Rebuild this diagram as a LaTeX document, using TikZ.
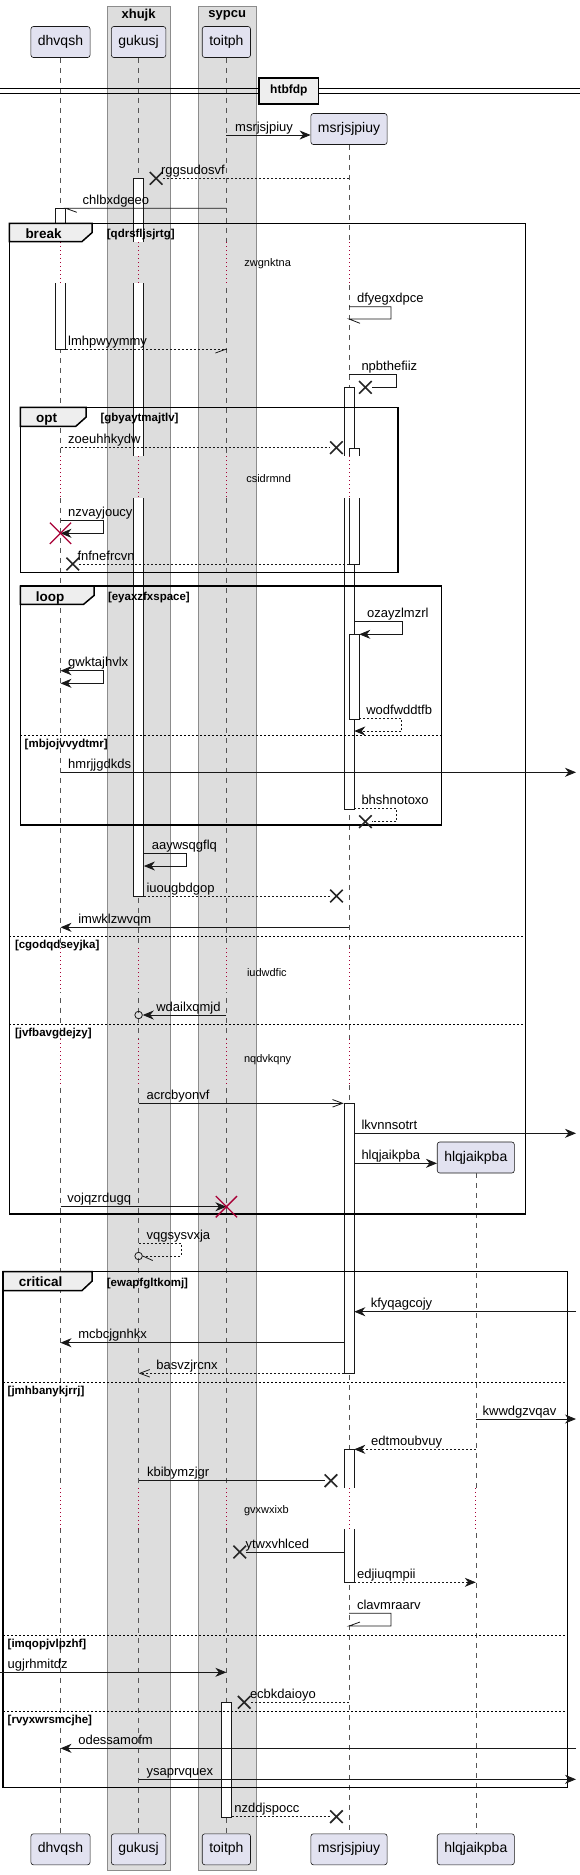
\documentclass[tikz,border=0pt]{standalone}
\usepackage{fontspec}
\setmainfont{Liberation Sans}
\usepackage{xcolor}
\usepackage{tikz}
\usetikzlibrary{arrows.meta, positioning, calc, shapes.misc}

\definecolor{partbg}{HTML}{E2E2F0}
\definecolor{partline}{HTML}{181818}
\definecolor{groupbg}{HTML}{DDDDDD}
\definecolor{groupline}{HTML}{8C8C8C}
\definecolor{tabbg}{HTML}{EEEEEE}
\definecolor{delayred}{HTML}{A80036}
\definecolor{lifegray}{HTML}{555555}

\newcommand{\msgfont}{\fontsize{13}{15}\selectfont}
\newcommand{\partfont}{\fontsize{14}{16}\selectfont}
\newcommand{\smallfont}{\fontsize{11}{13}\selectfont}
\newcommand{\tabfont}{\fontsize{13.5}{16}\selectfont\bfseries}
\newcommand{\condfont}{\fontsize{11.5}{13}\selectfont\bfseries}
\newcommand{\grpfont}{\fontsize{13}{15}\selectfont\bfseries}
\newcommand{\sepfont}{\fontsize{12}{14}\selectfont\bfseries}

\tikzset{
  part/.style={draw=partline, fill=partbg, rounded corners=2.5pt, line width=0.6pt, minimum height=31pt, inner xsep=7pt, inner ysep=0pt, font=\partfont},
  life/.style={draw=lifegray, line width=0.6pt, dash pattern=on 5pt off 5pt},
  actbar/.style={draw=partline, fill=white, line width=0.6pt, minimum width=10pt, inner sep=0pt, anchor=north},
  lbl/.style={anchor=base west, inner sep=0pt},
  mline/.style={draw=partline, line width=0.8pt},
  rline/.style={mline, dash pattern=on 2pt off 2pt},
  msg/.style={mline, -{Stealth[length=11pt,width=9pt,inset=3.5pt]}},
  rmsg/.style={msg, dash pattern=on 2pt off 2pt},
  dmsg/.style={mline, {Stealth[length=11pt,width=9pt,inset=3.5pt]}-{Stealth[length=11pt,width=9pt,inset=3.5pt]}},
  opn/.style={mline, -{Straight Barb[length=10pt,width=7.5pt]}},
  delay/.style={draw=delayred, line width=0.8pt, dash pattern=on 1pt off 3pt},
  frame/.style={draw=black, line width=1.5pt},
  tab/.style={draw=black, line width=1.5pt, fill=tabbg},
  divline/.style={draw=black, line width=0.8pt, dash pattern=on 2pt off 2pt},
  kind/.style={anchor=base west, inner sep=0pt, font=\tabfont},
  cond/.style={anchor=base west, inner sep=0pt, font=\condfont},
  dtext/.style={anchor=west, inner sep=0pt, font=\smallfont},
  lostx/.style={cross out, draw=black!85, line width=1.6pt, minimum size=11pt, inner sep=0pt},
  killx/.style={cross out, draw=delayred, line width=1.3pt, minimum size=20pt, inner sep=0pt},
  endo/.style={circle, draw=partline, line width=0.8pt, minimum size=7.5pt, inner sep=0pt}
}

\begin{document}
\begin{tikzpicture}[x=1pt, y=-1pt, every node/.style={font=\msgfont}]
    \useasboundingbox (0,0) rectangle (580,1875);

    % boxes
    \filldraw[fill=groupbg, draw=groupline, line width=0.6pt] (107.1,6) rectangle (170.3,1870);
    \filldraw[fill=groupbg, draw=groupline, line width=0.6pt] (198.5,6) rectangle (255.8,1870);
    \node[font=\grpfont] (xhujk) at (138.6,15.5) {xhujk};
    \node[font=\grpfont] (sypcu) at (227.2,15.5) {sypcu};

    % participants
    \node[part] (dt) at (60.5,42) {dhvqsh};
    \node[part] (gt) at (138.6,42) {gukusj};
    \node[part] (tt) at (226.4,42) {toitph};
    \node[part] (mt) at (349,129) {msrjsjpiuy};
    \node[part] (ht) at (475.8,1157.5) {hlqjaikpba};
    \node[part] (db) at (60.5,1849.3) {dhvqsh};
    \node[part] (gb) at (138.6,1849.3) {gukusj};
    \node[part] (tb) at (226.4,1849.3) {toitph};
    \node[part] (mb) at (349,1849.3) {msrjsjpiuy};
    \node[part] (hb) at (475.8,1849.3) {hlqjaikpba};
    \coordinate (ledge) at (0,0);
    \coordinate (redge) at (576,0);

    % lifelines
    \draw[life] (dt) -- (db);
    \draw[life] (gt) -- (gb);
    \draw[life] (tt) -- (tb);
    \draw[life] (mt) -- (mb);
    \draw[life] (ht) -- (hb);

    % separator
    \draw[line width=0.9pt] (0,88.5) -- (580,88.5) (0,93) -- (580,93);
    \node[draw, line width=1.5pt, fill=tabbg, font=\sepfont, minimum width=59.5pt, minimum height=26pt, inner sep=0pt] (htbfdp) at (288.9,90.8) {htbfdp};

    % activations
    \node[actbar, minimum height=717.7pt] (agk) at (gt |- 0,178.3) {};
    \node[actbar, minimum height=140.7pt] (adh) at (dt |- 0,208.3) {};
    \node[actbar, minimum height=422pt] (am1) at (mt |- 0,387.3) {};
    \node[actbar, minimum height=116.3pt] (am2) at ([xshift=5pt]mt |- 0,447.7) {};
    \node[actbar, minimum height=84.7pt] (am3) at ([xshift=5pt]mt |- 0,634.3) {};
    \node[actbar, minimum height=270pt] (am4) at (mt |- 0,1103.3) {};
    \node[actbar, minimum height=133pt] (am5) at (mt |- 0,1449.3) {};
    \node[actbar, minimum height=114.4pt] (atp) at (tt |- 0,1702.3) {};

    % delays
    \foreach \ya/\yb in {242/283, 456/498.3, 948.3/991.7, 1039/1085} {
      \foreach \p/\c in {dt/white, gt/groupbg, tt/groupbg, mt/white} {
        \fill[\c] ([xshift=-7pt]\p |- 0,\ya) rectangle ([xshift=12pt]\p |- 0,\yb);
        \draw[delay] (\p |- 0,\ya) -- (\p |- 0,\yb);
      }
    }
    \foreach \p/\c in {dt/white, gt/groupbg, tt/groupbg, mt/white, ht/white} {
      \fill[\c] ([xshift=-7pt]\p |- 0,1488.3) rectangle ([xshift=12pt]\p |- 0,1529.3);
      \draw[delay] (\p |- 0,1488.3) -- (\p |- 0,1529.3);
    }
    \node[dtext] (zwgnktna) at (244.2,263.3) {zwgnktna};
    \node[dtext] (csidrmnd) at (246.1,478.3) {csidrmnd};
    \node[dtext] (iudwdfic) at (246.8,972.7) {iudwdfic};
    \node[dtext] (nqdvkqny) at (243.9,1060) {nqdvkqny};
    \node[dtext] (gvxwxixb) at (243.9,1510.7) {gvxwxixb};

    % break
    \draw[frame] (9.3,223.3) rectangle (525.3,1214);
    \filldraw[tab] (9.3,223.3) -- (92.2,223.3) -- (92.2,232.5) -- (81.8,241.7) -- (9.3,241.7) -- cycle;
    \node[kind] (kbreak) at (25.3,238.3) {break};
    \node[cond] (cbreak) at (106.7,237.8) {[qdrsfljsjrtg]};
    \draw[divline] (9.3,936) -- (525.3,936);
    \node[cond] (cbreak2) at (14.8,948.5) {[cgodqdseyjka]};
    \draw[divline] (9.3,1024.3) -- (525.3,1024.3);
    \node[cond] (cbreak3) at (14.8,1036.8) {[jvfbavgdejzy]};

    % opt
    \draw[frame] (20.4,407.3) rectangle (397.8,572.3);
    \filldraw[tab] (20.4,407.3) -- (86.2,407.3) -- (86.2,417) -- (75.8,426.3) -- (20.4,426.3) -- cycle;
    \node[kind] (kopt) at (36,422.3) {opt};
    \node[cond] (copt) at (100.4,421.5) {[gbyaytmajtlv]};

    % loop
    \draw[frame] (20.4,586) rectangle (441.6,825);
    \filldraw[tab] (20.4,586) -- (94,586) -- (94,595.5) -- (83.6,604.3) -- (20.4,604.3) -- cycle;
    \node[kind] (kloop) at (35.7,601) {loop};
    \node[cond] (cloop) at (107.8,600.3) {[eyaxzfxspace]};
    \draw[divline] (20.4,735.3) -- (441.6,735.3);
    \node[cond] (cloop2) at (24.5,747.5) {[mbjojvvydtmr]};

    % critical
    \draw[frame] (3,1271.7) rectangle (567.6,1787.3);
    \filldraw[tab] (3,1271.7) -- (92.2,1271.7) -- (92.2,1281) -- (81.8,1290.7) -- (3,1290.7) -- cycle;
    \node[kind] (kcrit) at (18.6,1286.7) {critical};
    \node[cond] (ccrit) at (106.7,1286) {[ewapfgltkomj]};
    \draw[divline] (3,1382.3) -- (567.6,1382.3);
    \node[cond] (ccrit2) at (7.5,1394.5) {[jmhbanykjrrj]};
    \draw[divline] (3,1635.3) -- (567.6,1635.3);
    \node[cond] (ccrit3) at (7.5,1647.5) {[imqopjvlpzhf]};
    \draw[divline] (3,1711) -- (567.6,1711);
    \node[cond] (ccrit4) at (7.5,1723.5) {[rvyxwrsmcjhe]};

    % messages
    \draw[msg] (tt |- 0,135) -- (mt.west |- 0,135);
    \node[lbl] (l1) at (235,131) {msrjsjpiuy};

    \node[lostx] (x1) at (156.1,178.3) {};
    \draw[rline] (mt |- 0,178.3) -- (x1);
    \node[lbl] (l2) at (160.9,174.3) {rggsudosvf};

    \draw[mline] (tt |- 0,208.3) -- (adh.east |- 0,208.3) -- ++(11,4);
    \node[lbl] (l3) at (82.5,204.3) {chlbxdgeeo};

    \draw[rline] (adh.east |- 0,349) -- (tt |- 0,349);
    \draw[mline] (tt |- 0,349) -- ++(-11,4);
    \node[lbl] (l4) at (68,345) {lmhpwyymmy};

    \draw[mline] (mt |- 0,306.7) -- ++(42,0) -- ++(0,12.3) -- (mt |- 0,319) -- ++(11,4.3);
    \node[lbl] (l5) at (356.9,302.7) {dfyegxdpce};

    \node[lostx] (x2) at (365.4,387.3) {};
    \draw[mline] (mt |- 0,374.3) -- ++(47.2,0) -- ++(0,13) -- (x2);
    \node[lbl] (l6) at (361.3,370.3) {npbthefiiz};

    \node[lostx] (x3) at (336.4,447.7) {};
    \draw[rline] (dt |- 0,447.7) -- (x3);
    \node[lbl] (l7) at (68,443.7) {zoeuhhkydw};

    \draw[msg] (dt |- 0,520.7) -- ++(42.4,0) -- ++(0,12.6) -- (dt |- 0,533.3);
    \node[killx] (k1) at (dt |- 0,533.3) {};
    \node[lbl] (l8) at (68,516.7) {nzvayjoucy};

    \node[lostx] (x4) at (72.8,564) {};
    \draw[rline] (am2.west |- 0,564) -- (x4);
    \node[lbl] (l9) at (77.3,560) {fnfnefrcvn};

    \draw[msg] (am1.east |- 0,621.7) -- ++(47.6,0) -- ++(0,12.6) -- (am3.east |- 0,634.3);
    \node[lbl] (l10) at (366.9,617.7) {ozayzlmzrl};

    \draw[dmsg] (dt |- 0,670.7) -- ++(42.4,0) -- ++(0,12.6) -- (dt |- 0,683.3);
    \node[lbl] (l11) at (68,666.7) {gwktajhvlx};

    \draw[rmsg] (am3.east |- 0,718.3) -- ++(42.5,0) -- ++(0,12.7) -- (am1.east |- 0,731);
    \node[lbl] (l12) at (366.1,714.3) {wodfwddtfb};

    \draw[msg] (dt |- 0,772.3) -- (redge |- 0,772.3);
    \node[lbl] (l13) at (68,768.3) {hmrjjgdkds};

    \node[lostx] (x5) at (365.4,821.7) {};
    \draw[rline] (am1.east |- 0,808.3) -- ++(42.3,0) -- ++(0,13.4) -- (x5);
    \node[lbl] (l14) at (361.3,804.3) {bhshnotoxo};

    \draw[msg] (agk.east |- 0,853.3) -- ++(42.6,0) -- ++(0,12.7) -- (agk.east |- 0,866);
    \node[lbl] (l15) at (151.7,849.3) {aaywsqgflq};

    \node[lostx] (x6) at (336.4,896) {};
    \draw[rline] (agk.east |- 0,896) -- (x6);
    \node[lbl] (l16) at (146.4,892) {iuougbdgop};

    \draw[msg] (mt |- 0,927.3) -- (dt |- 0,927.3);
    \node[lbl] (l17) at (78.1,923.3) {imwklzwvqm};

    \node[endo] (o1) at (gt |- 0,1015) {};
    \draw[msg] (tt |- 0,1015) -- (o1);
    \node[lbl] (l18) at (156.1,1011) {wdailxqmjd};

    \draw[opn] (gt |- 0,1103.3) -- (am4.west |- 0,1103.3);
    \node[lbl] (l19) at (146.4,1099.3) {acrcbyonvf};

    \draw[msg] (am4.east |- 0,1133.3) -- (redge |- 0,1133.3);
    \node[lbl] (l20) at (361.3,1129.3) {lkvnnsotrt};

    \draw[msg] (am4.east |- 0,1163.3) -- (ht.west |- 0,1163.3);
    \node[lbl] (l21) at (361.3,1159.3) {hlqjaikpba};

    \draw[msg] (dt |- 0,1206.7) -- (tt |- 0,1206.7);
    \node[killx] (k2) at (tt |- 0,1206.7) {};
    \node[lbl] (l22) at (67.2,1202.7) {vojqzrdugq};

    \node[endo] (o2) at (gt |- 0,1256) {};
    \draw[rline] (gt |- 0,1243.3) -- ++(42.4,0) -- ++(0,12.7) -- (o2);
    \draw[mline] (o2.east) -- ++(10,4.5);
    \node[lbl] (l23) at (146.4,1239.3) {vqgsysvxja};

    \draw[msg] (redge |- 0,1311.7) -- (am4.east |- 0,1311.7);
    \node[lbl] (l24) at (370.6,1307.7) {kfyqagcojy};

    \draw[msg] (am4.west |- 0,1342.7) -- (dt |- 0,1342.7);
    \node[lbl] (l25) at (78.1,1338.7) {mcbcjgnhkx};

    \draw[opn, dash pattern=on 2pt off 2pt] (am4.west |- 0,1373.3) -- (gt |- 0,1373.3);
    \node[lbl] (l26) at (156.1,1369.3) {basvzjrcnx};

    \draw[msg] (ht |- 0,1419) -- (redge |- 0,1419);
    \node[lbl] (l27) at (482.5,1415) {kwwdgzvqav};

    \draw[rmsg] (ht |- 0,1449.3) -- (am5.east |- 0,1449.3);
    \node[lbl] (l28) at (371,1445.3) {edtmoubvuy};

    \node[lostx] (x7) at (330.9,1480.7) {};
    \draw[mline] (gt |- 0,1480.7) -- (x7);
    \node[lbl] (l29) at (146.9,1476.7) {kbibymzjgr};

    \node[lostx] (x8) at (239.8,1552) {};
    \draw[mline] (am5.west |- 0,1552) -- (x8);
    \node[lbl] (l30) at (245.3,1548) {ytwxvhlced};

    \draw[rmsg] (am5.east |- 0,1582.3) -- (ht |- 0,1582.3);
    \node[lbl] (l31) at (356.9,1578.3) {edjiuqmpii};

    \draw[mline] (mt |- 0,1613.3) -- ++(42,0) -- ++(0,12.7) -- (mt |- 0,1626) -- ++(11,-4);
    \node[lbl] (l32) at (356.9,1609.3) {clavmraarv};

    \draw[msg] (ledge |- 0,1672.3) -- (tt |- 0,1672.3);
    \node[lbl] (l33) at (7.5,1668.3) {ugjrhmitdz};

    \node[lostx] (x9) at (244.2,1702.3) {};
    \draw[rline] (mt |- 0,1702.3) -- (x9);
    \node[lbl] (l34) at (249.8,1698.3) {ecbkdaioyo};

    \draw[msg] (redge |- 0,1748.3) -- (dt |- 0,1748.3);
    \node[lbl] (l35) at (78.1,1744.3) {odessamofm};

    \draw[msg] (gt |- 0,1779.3) -- (redge |- 0,1779.3);
    \node[lbl] (l36) at (146.4,1775.3) {ysaprvquex};

    \node[lostx] (x10) at (336.4,1816.7) {};
    \draw[rline] (atp.east |- 0,1816.7) -- (x10);
    \node[lbl] (l37) at (234.2,1812.7) {nzddjspocc};

\end{tikzpicture}
\end{document}
